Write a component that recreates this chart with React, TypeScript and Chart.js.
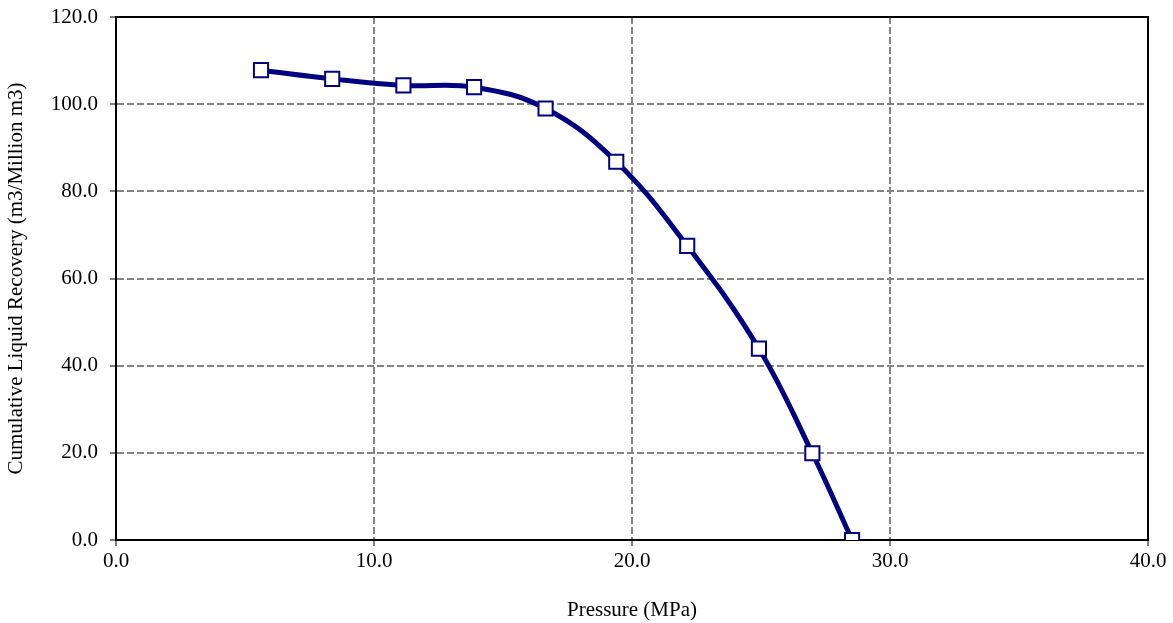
import React, { useEffect, useRef } from "react";
import { Chart, registerables } from "chart.js";

Chart.register(...registerables);

const pressure = [5.62, 8.38, 11.14, 13.88, 16.65, 19.39, 22.14, 24.92, 26.99, 28.53];
const recovery = [107.8, 105.8, 104.3, 103.9, 99.0, 86.8, 67.5, 43.9, 19.9, 0.0];
const xTitle = "Pressure (MPa)";
const yTitle = "Cumulative Liquid Recovery (m3/Million m3)";

const FONT = "'Liberation Serif', 'Times New Roman', serif";

const framePlugin = {
  id: "frame",
  beforeDatasetsDraw(chart: any) {
    const { ctx, chartArea: a } = chart;
    ctx.save();
    ctx.strokeStyle = "#000000";
    ctx.lineWidth = 2;
    ctx.strokeRect(a.left, a.top, a.right - a.left, a.bottom - a.top);
    ctx.restore();
  },
};

export default function App() {
  const ref = useRef<HTMLCanvasElement | null>(null);
  useEffect(() => {
    document.body.style.margin = "0";
    const chart = new Chart(ref.current as HTMLCanvasElement, {
      type: "line",
      data: {
        datasets: [
          {
            data: pressure.map((x, i) => ({ x, y: recovery[i] })),
            borderColor: "#000080",
            borderWidth: 5,
            tension: 0.4,
            pointStyle: "rect",
            pointRadius: 10,
            pointBackgroundColor: "#ffffff",
            pointBorderColor: "#000080",
            pointBorderWidth: 2,
            fill: false,
          },
        ],
      },
      options: {
        animation: false,
        responsive: false,
        maintainAspectRatio: false,
        layout: { padding: { top: 17, right: 25, left: 0, bottom: 0 } },
        plugins: { legend: { display: false }, tooltip: { enabled: false } },
        scales: {
          x: {
            type: "linear",
            min: 0,
            max: 40,
            afterFit: (s: any) => {
              s.height = 83;
              s.paddingLeft = 0;
              s.paddingRight = 0;
            },
            ticks: {
              stepSize: 10,
              padding: 3,
              color: "#000000",
              font: { family: FONT, size: 21 },
              callback: (v: any) => Number(v).toFixed(1),
            },
            grid: {
              color: "#858585",
              lineWidth: 2,
              tickLength: 6,
              tickColor: "#000000",
              tickWidth: 1,
              tickBorderDash: [],
            } as any,
            border: { display: true, color: "#000000", width: 2, dash: [7, 3] } as any,
            title: {
              display: true,
              text: xTitle,
              color: "#000000",
              font: { family: FONT, size: 21 },
              padding: { top: 4, bottom: 0 },
            },
          },
          y: {
            type: "linear",
            min: 0,
            max: 120,
            afterFit: (s: any) => {
              s.width = 116;
              s.paddingTop = 0;
              s.paddingBottom = 0;
            },
            ticks: {
              stepSize: 20,
              padding: 12,
              color: "#000000",
              font: { family: FONT, size: 21 },
              callback: (v: any) => Number(v).toFixed(1),
            },
            grid: {
              color: "#858585",
              lineWidth: 2,
              tickLength: 6,
              tickColor: "#000000",
              tickWidth: 1,
              tickBorderDash: [],
            } as any,
            border: { display: true, color: "#000000", width: 2, dash: [7, 3] } as any,
            title: {
              display: true,
              text: yTitle,
              color: "#000000",
              font: { family: FONT, size: 21 },
              padding: { top: 4, bottom: 4 },
            },
          },
        },
      },
      plugins: [framePlugin],
    });
    return () => chart.destroy();
  }, []);
  return (
    <div style={{ width: 1173, height: 623, background: "#ffffff" }}>
      <canvas ref={ref} width={1173} height={623} style={{ display: "block" }} />
    </div>
  );
}
